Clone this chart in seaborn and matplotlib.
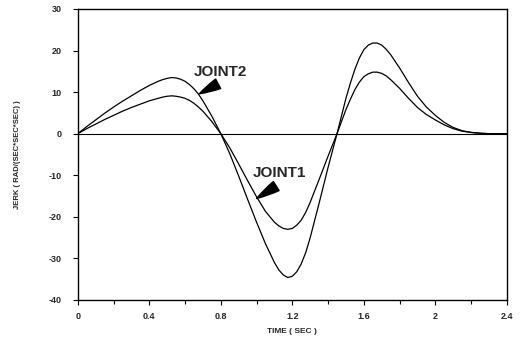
import numpy as np
import pandas as pd
import matplotlib
matplotlib.use("Agg")
import matplotlib.pyplot as plt
import seaborn as sns

# time samples (sec)
time = [0.00, 0.05, 0.10, 0.15, 0.20, 0.25, 0.30, 0.35, 0.40, 0.45,
        0.475, 0.50, 0.525, 0.55, 0.575, 0.60, 0.625, 0.65, 0.675, 0.70,
        0.75, 0.80, 0.85, 0.90, 0.95, 1.00, 1.05, 1.10, 1.125, 1.15,
        1.175, 1.20, 1.225, 1.25, 1.275, 1.30, 1.35, 1.40, 1.45, 1.50, 1.525,
        1.55, 1.575, 1.60, 1.625, 1.65, 1.675, 1.70, 1.725, 1.75, 1.80,
        1.85, 1.90, 1.95, 2.00, 2.05, 2.10, 2.15, 2.20, 2.25, 2.30,
        2.35, 2.40]

# JOINT2 jerk (outer curve)
joint2 = [0.0, 1.7, 3.3, 4.9, 6.4, 7.8, 9.1, 10.4, 11.6, 12.6,
          13.0, 13.3, 13.5, 13.4, 13.1, 12.6, 11.8, 10.8, 9.5, 7.9,
          4.2, 0.0, -4.8, -10.2, -15.8, -21.3, -26.5, -31.0, -32.8, -34.0,
          -34.6, -34.3, -33.2, -31.3, -28.6, -25.0, -16.7, -8.1, 0.0, 8.5, 12.2,
          15.5, 18.2, 20.2, 21.3, 21.8, 21.8, 21.3, 20.3, 19.0, 15.8,
          12.3, 9.0, 6.4, 4.4, 2.7, 1.5, 0.7, 0.3, 0.1, 0.0,
          0.0, 0.0]

# JOINT1 jerk (inner curve)
joint1 = [0.0, 1.2, 2.3, 3.4, 4.4, 5.4, 6.3, 7.1, 7.9, 8.5,
          8.8, 9.0, 9.1, 9.0, 8.8, 8.5, 8.0, 7.3, 6.4, 5.4,
          2.9, 0.0, -3.4, -7.3, -11.3, -15.2, -18.7, -21.3, -22.2, -22.8,
          -23.0, -22.8, -22.0, -20.8, -18.9, -16.5, -11.0, -5.4, 0.0, 5.8, 8.3,
          10.6, 12.4, 13.7, 14.4, 14.8, 14.8, 14.5, 13.9, 13.0, 10.9,
          8.5, 6.3, 4.6, 3.3, 2.1, 1.2, 0.6, 0.3, 0.1, 0.0,
          0.0, 0.0]

x_ticks = [0, 0.4, 0.8, 1.2, 1.6, 2, 2.4]
x_tick_labels = ["0", "0.4", "0.8", "1.2", "1.6", "2", "2.4"]
y_ticks = [-40, -30, -20, -10, 0, 10, 20, 30]

df = pd.DataFrame({
    "time": time * 2,
    "jerk": joint1 + joint2,
    "joint": ["JOINT1"] * len(time) + ["JOINT2"] * len(time),
})

sns.set_theme(style="ticks")
plt.rcParams["font.family"] = ["Liberation Sans", "DejaVu Sans"]

fig = plt.figure(figsize=(5.22, 3.44), dpi=100)
ax = fig.add_axes([0.149, 0.128, 0.822, 0.846])

sns.lineplot(data=df, x="time", y="jerk", hue="joint",
             palette={"JOINT1": "black", "JOINT2": "black"},
             linewidth=0.9, legend=False, ax=ax)
ax.axhline(0, color="black", linewidth=0.8)

ax.set_xlim(0, 2.4)
ax.set_ylim(-40, 30)
ax.set_xticks(np.arange(0, 2.41, 0.2), minor=True)
ax.set_xticks(x_ticks)
ax.set_xticklabels(x_tick_labels, fontsize=6.5, fontweight="bold")
ax.set_yticks(y_ticks)
ax.set_yticklabels([str(v) for v in y_ticks], fontsize=6.5, fontweight="bold")
ax.tick_params(axis="both", which="both", direction="out", length=3.5,
               width=0.8, color="black")
ax.tick_params(axis="x", which="both", pad=5)
ax.tick_params(axis="y", which="both", pad=8)
ax.tick_params(axis="x", which="minor", length=3)

for s in ax.spines.values():
    s.set_visible(True)
    s.set_color("black")
    s.set_linewidth(1.0)

ax.set_xlabel("TIME ( SEC )", fontsize=6, fontweight="bold", labelpad=5)
ax.set_ylabel("JERK ( RAD/(SEC*SEC*SEC) )", fontsize=5.5, fontweight="bold",
              labelpad=20)

wedge = dict(arrowstyle="wedge,tail_width=0.55,shrink_factor=0.6",
             fc="black", ec="black", shrinkA=0, shrinkB=0, mutation_scale=14)
ax.text(0.80, 14.9, "JOINT2", fontsize=11, fontweight="bold",
        ha="center", va="center")
ax.annotate("", xy=(0.68, 9.6), xytext=(0.785, 12.0), arrowprops=wedge)
ax.text(1.13, -9.4, "JOINT1", fontsize=11, fontweight="bold",
        ha="center", va="center")
ax.annotate("", xy=(1.0, -15.6), xytext=(1.11, -12.6), arrowprops=wedge)

fig.savefig("out.png", dpi=100)
